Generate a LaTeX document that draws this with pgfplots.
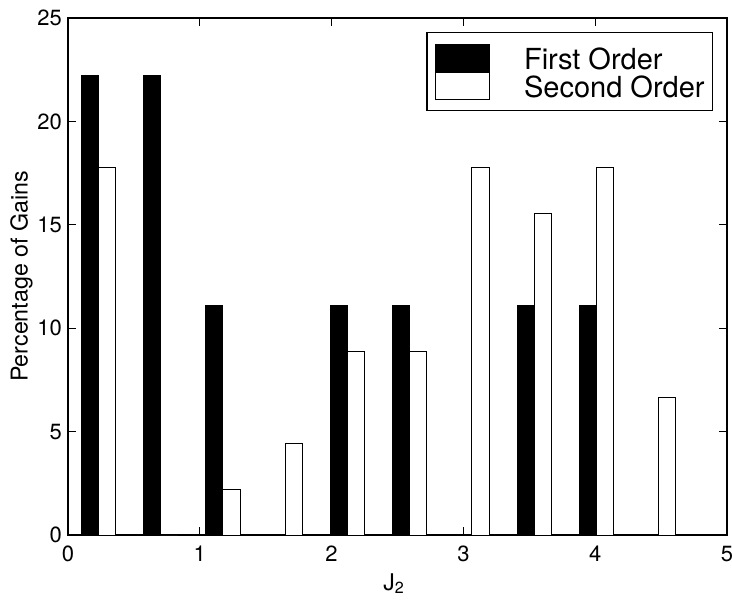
\documentclass[border=0pt]{standalone}
\usepackage{fontspec}
\setmainfont{TeX Gyre Heros}
\usepackage{pgfplots}
\pgfplotsset{compat=1.18}
\begin{document}
\begin{tikzpicture}
\useasboundingbox (-34pt,-32.5pt) rectangle (332pt,267.5pt);
\begin{axis}[
  at={(0,0)}, anchor=south west,
  scale only axis, width=329.5pt, height=258.5pt,
  xmin=0, xmax=5, ymin=0, ymax=25,
  xtick={0,1,2,3,4,5}, ytick={0,5,10,15,20,25},
  tick align=inside, major tick length=4pt,
  axis line style={line width=0.8pt},
  every tick/.style={black, line width=0.6pt},
  ticklabel style={font=\fontsize{11}{13}\selectfont},
  /pgf/number format/assume math mode=true,
  xticklabel style={yshift=-2pt},
  yticklabel style={xshift=0.5pt},
  xlabel={J\textsubscript{2}},
  ylabel={Percentage of Gains},
  xlabel style={at={(axis description cs:0.495,0)}, anchor=north, inner sep=0pt, yshift=-19pt, font=\fontsize{11.5}{13}\selectfont},
  ylabel style={at={(axis description cs:-0.053,0.5)}, anchor=south, inner sep=0pt, font=\fontsize{11.6}{13}\selectfont},
  legend cell align=left,
  legend style={at={(0.979,0.973)}, anchor=north east, draw=black, line width=0.6pt,
    inner xsep=4pt, inner ysep=5.5pt, font=\fontsize{14.5}{16}\selectfont,
    nodes={inner sep=0pt, text height=12.5pt, text depth=1pt},
    row sep=0pt, /tikz/every odd column/.append style={column sep=17pt}},
  legend image code/.code={\draw[#1] (0pt,-6.75pt) rectangle (27pt,6.75pt);},
]
\addplot[ybar, bar width=0.13, bar shift=0pt, fill=black, draw=black, line width=0.5pt] coordinates {
(0.165,22.22) (0.6375,22.22) (1.11,11.11) (1.5825,0) (2.055,11.11)
(2.5275,11.11) (3.0,0) (3.4725,11.11) (3.945,11.11) (4.4175,0)};
\addplot[ybar, bar width=0.13, bar shift=0pt, fill=white, draw=black, line width=0.5pt] coordinates {
(0.295,17.78) (0.7675,0) (1.24,2.22) (1.7125,4.44) (2.185,8.89)
(2.6575,8.89) (3.13,17.78) (3.6025,15.56) (4.075,17.78) (4.5475,6.67)};
\legend{First Order, Second Order}
\end{axis}
\end{tikzpicture}
\end{document}
